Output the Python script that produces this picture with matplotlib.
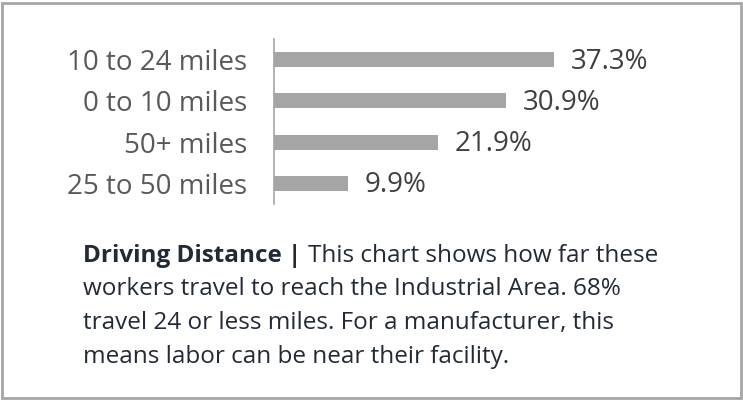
import matplotlib
matplotlib.use('Agg')
import matplotlib.pyplot as plt
from matplotlib.patches import Rectangle

categories = ['10 to 24 miles', '0 to 10 miles', '50+ miles', '25 to 50 miles']
shares = [37.3, 30.9, 21.9, 9.9]
value_labels = ['37.3%', '30.9%', '21.9%', '9.9%']

title_bold = 'Driving Distance | '
caption_lines = [
    'This chart shows how far these',
    'workers travel to reach the Industrial Area. 68%',
    'travel 24 or less miles. For a manufacturer, this',
    'means labor can be near their facility.',
]

plt.rcParams['font.family'] = ['Open Sans', 'DejaVu Sans']

fig = plt.figure(figsize=(7.43, 4.0), dpi=100)
W, H = 743, 400

# outer frame
fig.patches.append(Rectangle((2 / W, 2 / H), 739 / W, 395 / H, transform=fig.transFigure,
                             fill=False, edgecolor='#a6a6a6', linewidth=2))

ax = fig.add_axes([274 / W, (400 - 204) / H, 375 / W, 165 / H])
pos = list(range(len(categories)))
ax.barh(pos, shares, height=0.36, color='#a5a5a5')
ax.set_xlim(0, 50)
ax.set_ylim(3.5, -0.5)
ax.set_yticks(pos)
ax.set_yticklabels(categories, fontsize=20, color='#595959')
ax.tick_params(axis='y', length=0, pad=19)
ax.set_xticks([])
for s in ['top', 'right', 'bottom']:
    ax.spines[s].set_visible(False)
ax.spines['left'].set_color('#a6a6a6')
ax.spines['left'].set_linewidth(1.2)

for p, v, lab in zip(pos, shares, value_labels):
    ax.annotate(lab, xy=(v, p), xytext=(12, -1.5), textcoords='offset points',
                va='center', ha='left', fontsize=20, color='#404040')

# caption
tcol = '#222a35'
x0 = 83 / W
baselines = [262, 295, 329, 363]
t = fig.text(x0, 1 - baselines[0] / H, title_bold, fontsize=17.5, fontweight='bold',
             color=tcol, va='baseline', ha='left')
fig.canvas.draw()
bb = t.get_window_extent()
fig.text(bb.x1 / W, 1 - baselines[0] / H, caption_lines[0], fontsize=17.5, color=tcol,
         va='baseline', ha='left')
for yl, line in zip(baselines[1:], caption_lines[1:]):
    fig.text(x0, 1 - yl / H, line, fontsize=17.5, color=tcol, va='baseline', ha='left')

fig.savefig('out.png', dpi=100)
